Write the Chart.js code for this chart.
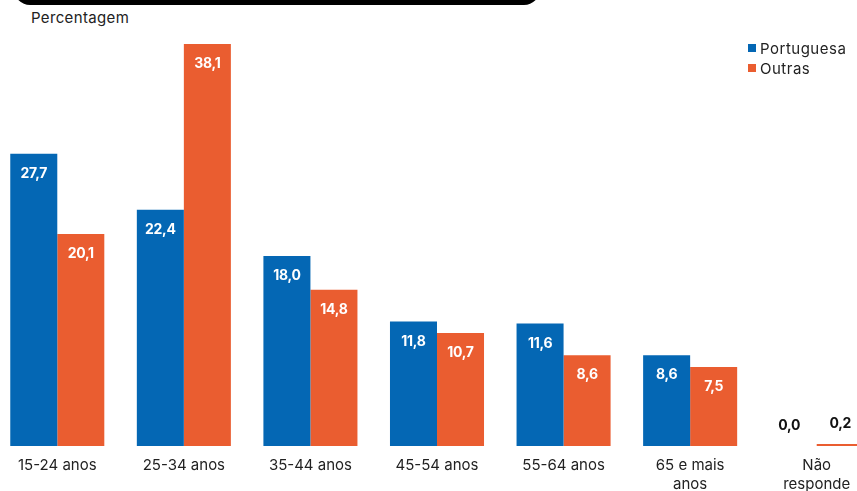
<!DOCTYPE html>
<html>
<head>
<meta charset="utf-8">
<script src="https://cdn.jsdelivr.net/npm/chart.js@4.4.1/dist/chart.umd.min.js"></script>
<style>
  html, body { margin: 0; padding: 0; background: #fff; }
  body { width: 857px; height: 491px; position: relative; overflow: hidden; font-family: Inter, "DejaVu Sans", sans-serif; }
  #topbar { position: absolute; left: 14px; top: -30px; width: 526px; height: 35px; background: #000; border-radius: 16px; }
  #unit { position: absolute; left: 31px; top: 8px; font-size: 15px; letter-spacing: 0.35px; color: #222; }
  #wrap { position: absolute; left: -6px; top: 0; width: 886px; height: 491px; }
</style>
</head>
<body>
<div id="topbar"></div>
<div id="unit">Percentagem</div>
<div id="wrap"><canvas id="c"></canvas></div>
<script>
// Age groups and shares (%) by nationality
const categories = ["15-24 anos", "25-34 anos", "35-44 anos", "45-54 anos", "55-64 anos", ["65 e mais", "anos"], ["Não", "responde"]];
const seriesNames = ["Portuguesa", "Outras"];
const portuguesa = [27.7, 22.4, 18.0, 11.8, 11.6, 8.6, 0.0];
const outras = [20.1, 38.1, 14.8, 10.7, 8.6, 7.5, 0.2];
const colors = ["#0467b4", "#ea5d30"];

const fmt = v => v.toFixed(1).replace(".", ",");

// Value labels: white inside the bar near its top, dark above very short bars
const valueLabels = {
  id: "valueLabels",
  afterDatasetsDraw(chart) {
    const ctx = chart.ctx;
    ctx.save();
    ctx.font = "bold 14px Inter, sans-serif";
    if ("letterSpacing" in ctx) ctx.letterSpacing = "-0.3px";
    ctx.textAlign = "center";
    ctx.textBaseline = "middle";
    chart.data.datasets.forEach((ds, di) => {
      chart.getDatasetMeta(di).data.forEach((bar, i) => {
        const v = ds.data[i];
        if (v < 3) {
          ctx.fillStyle = "#111";
          ctx.fillText(fmt(v), bar.x - (di === 0 ? 4 : 0), bar.y - 20);
        } else {
          ctx.fillStyle = "#fff";
          ctx.fillText(fmt(v), bar.x, bar.y + 20);
        }
      });
    });
    ctx.restore();
  }
};

// Legend in the upper right corner
const cornerLegend = {
  id: "cornerLegend",
  afterDraw(chart) {
    const ctx = chart.ctx;
    ctx.save();
    ctx.font = "15px Inter, sans-serif";
    if ("letterSpacing" in ctx) ctx.letterSpacing = "0.5px";
    ctx.textBaseline = "middle";
    seriesNames.forEach((name, i) => {
      const y = 49 + i * 20;
      ctx.fillStyle = colors[i];
      ctx.fillRect(754, y - 5, 8, 8);
      ctx.fillStyle = "#222";
      ctx.fillText(name, 766, y);
    });
    ctx.restore();
  }
};

new Chart(document.getElementById("c"), {
  type: "bar",
  data: {
    labels: categories,
    datasets: [
      { label: seriesNames[0], data: portuguesa, backgroundColor: colors[0] },
      { label: seriesNames[1], data: outras, backgroundColor: colors[1] }
    ]
  },
  options: {
    responsive: true,
    maintainAspectRatio: false,
    animation: false,
    layout: { padding: { top: 24, left: 0, right: 0, bottom: 0 } },
    datasets: { bar: { categoryPercentage: 0.743, barPercentage: 1.0 } },
    plugins: { legend: { display: false }, tooltip: { enabled: false } },
    scales: {
      x: {
        grid: { display: false, drawTicks: false },
        border: { display: false },
        ticks: { color: "#222", font: { size: 15, family: "Inter", lineHeight: 1.25 }, padding: 10, maxRotation: 0, autoSkip: false },
        afterFit(scale) { scale.height = 45; }
      },
      y: { display: false, min: 0, max: 40 }
    }
  },
  plugins: [valueLabels, cornerLegend]
});
</script>
</body>
</html>
